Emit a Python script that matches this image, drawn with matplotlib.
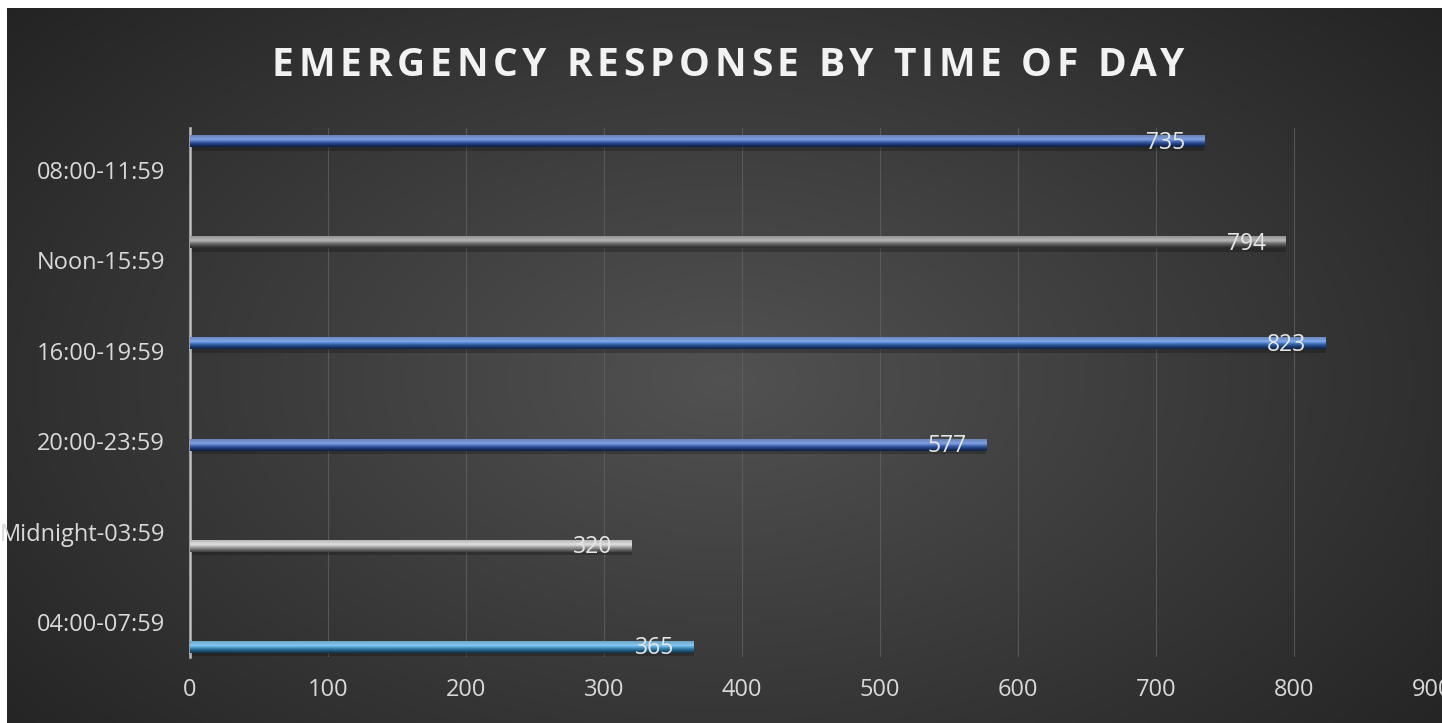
import numpy as np
import matplotlib.pyplot as plt
from matplotlib.colors import to_rgb

# Emergency calls per time band (top to bottom as shown)
categories = ["08:00-11:59", "Noon-15:59", "16:00-19:59",
              "20:00-23:59", "Midnight-03:59", "04:00-07:59"]
counts = [735, 794, 823, 577, 320, 365]
bar_colors = ["#2F64D2", "#8A8A8A", "#2F74E0", "#2F66D4", "#D0D0D0", "#3AAAF0"]
x_ticks = [0, 100, 200, 300, 400, 500, 600, 700, 800, 900]
title = "EMERGENCY RESPONSE BY TIME OF DAY"

plt.rcParams['font.family'] = ['Open Sans', 'DejaVu Sans']

W, H = 1442, 723
fig = plt.figure(figsize=(W / 100, H / 100), dpi=100, facecolor="white")

# dark radial backdrop (thin white margin at top/left)
bg = fig.add_axes([7 / W, 0, 1 - 7 / W, 1 - 8 / H])
yy, xx = np.mgrid[0:1:300j, 0:1:600j]
r = np.sqrt(((xx - 0.5) / 0.62) ** 2 + ((yy - 0.52) / 0.75) ** 2)
shade = np.clip(0.32 - 0.17 * r, 0.14, 0.32)
bg.imshow(np.dstack([shade] * 3), aspect="auto", extent=(0, 1, 0, 1), interpolation="bicubic")
bg.set_axis_off()

ax = fig.add_axes([190 / W, 1 - 657 / H, (1432 - 190) / W, (657 - 128) / H])
ax.patch.set_alpha(0)

n = len(categories)
tick_pos = [n - 1 - i for i in range(n)]
# 3D projection puts each bar slightly off its category label
bar_pos = [-0.277 + 1.119 * k for k in tick_pos]
thick = 0.13


def cylinder(color):
    c = np.array(to_rgb(color))
    cols = []
    for s in np.linspace(0, 1, 40):
        # s=0 bottom of bar, s=1 top
        if s < 0.62:
            t = s / 0.62
            col = c * (0.3 + 0.7 * t) + (1 - c) * 0.4 * t ** 3
        else:
            t = (s - 0.62) / 0.38
            col = (c + (1 - c) * 0.4) * (1 - 0.2 * t)
        cols.append(np.clip(col, 0, 1))
    return np.array(cols)[::-1][:, None, :]


for v, yb, col in zip(counts, bar_pos, bar_colors):
    # soft shadow under the bar
    ax.barh(yb - thick * 0.45, v, height=thick * 0.7, color="black", alpha=0.22, zorder=2)
    ax.imshow(cylinder(col), aspect="auto", extent=(0, v, yb - thick / 2, yb + thick / 2),
              interpolation="bicubic", zorder=3)
    ax.annotate(str(v), xy=(v, yb), xytext=(-14, -1), textcoords="offset points",
                ha="right", va="center", color="#E6E6E6", fontsize=16.5, zorder=4)

ax.set_xlim(0, 900)
ax.set_ylim(-0.387, 5.465)
ax.set_xticks(x_ticks)
ax.set_xticklabels([str(t) for t in x_ticks])
ax.set_yticks(tick_pos)
ax.set_yticklabels(categories)
ax.tick_params(axis="both", length=0, labelsize=17, colors="#D9D9D9")
ax.tick_params(axis="x", pad=15)
ax.tick_params(axis="y", pad=18)
ax.xaxis.grid(True, color="#626262", linewidth=0.8, alpha=0.75, zorder=1)
ax.set_axisbelow(True)
for side in ["top", "right", "bottom"]:
    ax.spines[side].set_visible(False)
ax.spines["left"].set_color("#BFBFBF")
ax.spines["left"].set_linewidth(1.8)

# letter-spaced title, placed glyph by glyph
renderer = fig.canvas.get_renderer()
title_kw = dict(fontsize=28, fontweight="bold", color="#F2F2F2", va="center", ha="left")


def text_width(s):
    t = fig.text(0, 0, s, **title_kw)
    w = t.get_window_extent(renderer).width
    t.remove()
    return w


tracking = 4.8
full = text_width(title) + tracking * (len(title) - 1)
x0 = 728 - full / 2
for i, ch in enumerate(title):
    if ch == " ":
        continue
    left = text_width(title[:i + 1]) - text_width(ch)
    fig.text((x0 + left + tracking * i) / W, 1 - 66 / H, ch, **title_kw)

fig.savefig("out.png", dpi=100, facecolor="white")
